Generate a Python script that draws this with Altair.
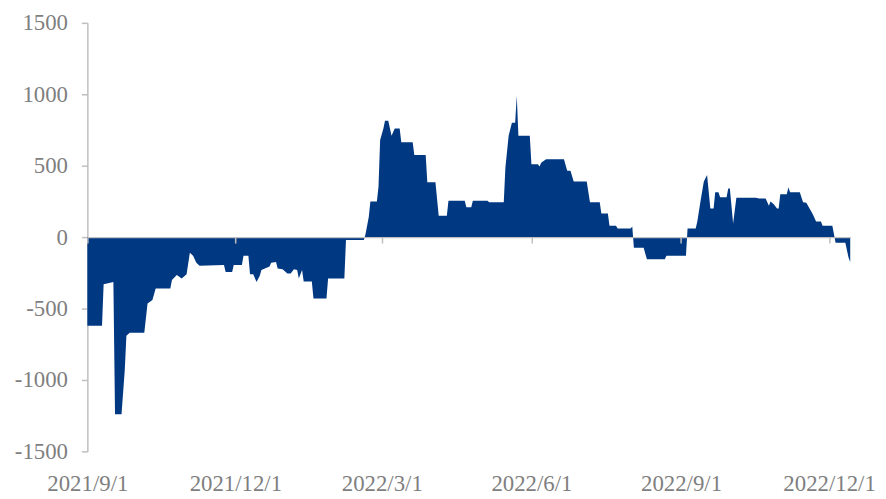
import altair as alt
import pandas as pd

dates = [
    "2021-09-01", "2021-09-10", "2021-09-11", "2021-09-17", "2021-09-18", "2021-09-22",
    "2021-09-24", "2021-09-25", "2021-09-27", "2021-10-06", "2021-10-08", "2021-10-11",
    "2021-10-13", "2021-10-22", "2021-10-23", "2021-10-26", "2021-10-29", "2021-11-01",
    "2021-11-03", "2021-11-05", "2021-11-07", "2021-11-09", "2021-11-24", "2021-11-25",
    "2021-11-29", "2021-11-30", "2021-12-05", "2021-12-06", "2021-12-09", "2021-12-10",
    "2021-12-12", "2021-12-14", "2021-12-16", "2021-12-17", "2021-12-22", "2021-12-23",
    "2021-12-26", "2021-12-27", "2021-12-30", "2022-01-02", "2022-01-04", "2022-01-06",
    "2022-01-08", "2022-01-09", "2022-01-11", "2022-01-12", "2022-01-17", "2022-01-18",
    "2022-01-26", "2022-01-27", "2022-02-06", "2022-02-07", "2022-02-18", "2022-02-19",
    "2022-02-21", "2022-02-22", "2022-02-26", "2022-02-27", "2022-02-28", "2022-03-02",
    "2022-03-03", "2022-03-05", "2022-03-07", "2022-03-09", "2022-03-12", "2022-03-13",
    "2022-03-20", "2022-03-21", "2022-03-28", "2022-03-29", "2022-04-03", "2022-04-05",
    "2022-04-10", "2022-04-11", "2022-04-21", "2022-04-22", "2022-04-25", "2022-04-26",
    "2022-05-05", "2022-05-06", "2022-05-15", "2022-05-16", "2022-05-18", "2022-05-20",
    "2022-05-22", "2022-05-23", "2022-05-24", "2022-05-31", "2022-06-01", "2022-06-05",
    "2022-06-06", "2022-06-07", "2022-06-10", "2022-06-21", "2022-06-23", "2022-06-25",
    "2022-06-27", "2022-07-05", "2022-07-07", "2022-07-13", "2022-07-14", "2022-07-18",
    "2022-07-19", "2022-07-23", "2022-07-24", "2022-08-01", "2022-08-02", "2022-08-03",
    "2022-08-09", "2022-08-11", "2022-08-22", "2022-08-23", "2022-09-04", "2022-09-05",
    "2022-09-10", "2022-09-11", "2022-09-13", "2022-09-15", "2022-09-17", "2022-09-19",
    "2022-09-21", "2022-09-22", "2022-09-24", "2022-09-25", "2022-09-29", "2022-09-30",
    "2022-10-01", "2022-10-03", "2022-10-05", "2022-10-17", "2022-10-19", "2022-10-23",
    "2022-10-25", "2022-10-26", "2022-10-28", "2022-10-30", "2022-10-31", "2022-11-01",
    "2022-11-05", "2022-11-06", "2022-11-07", "2022-11-13", "2022-11-15", "2022-11-17",
    "2022-11-19", "2022-11-21", "2022-11-23", "2022-11-26", "2022-11-27", "2022-12-03",
    "2022-12-05", "2022-12-11", "2022-12-13", "2022-12-14",
]
values = [
    -620, -620, -330, -315, -1240, -1240,
    -930, -690, -670, -670, -465, -440,
    -360, -360, -300, -265, -290, -260,
    -110, -130, -180, -200, -195, -245,
    -245, -195, -195, -130, -130, -260,
    -260, -315, -270, -230, -205, -180,
    -175, -220, -225, -255, -255, -225,
    -230, -290, -230, -310, -310, -430,
    -430, -290, -290, -20, -20, 20,
    140, 250, 250, 355, 680, 760,
    815, 815, 710, 760, 760, 665,
    665, 575, 575, 385, 385, 150,
    150, 255, 255, 210, 210, 255,
    255, 245, 245, 485, 710, 800,
    800, 990, 710, 710, 510, 510,
    495, 520, 545, 545, 465, 465,
    390, 390, 245, 245, 165, 165,
    80, 80, 60, 60, 75, -75,
    -75, -155, -155, -130, -130, 60,
    60, 110, 255, 390, 435, 200,
    200, 315, 315, 280, 280, 340,
    340, 95, 275, 275, 270, 270,
    220, 250, 230, 200, 200, 300,
    300, 350, 315, 315, 245, 240,
    200, 160, 110, 110, 80, 80,
    -40, -40, -145, -175,
]

y_ticks = [-1500, -1000, -500, 0, 500, 1000, 1500]
x_tick_dates = [(2021, 9, 1), (2021, 12, 1), (2022, 3, 1), (2022, 6, 1), (2022, 9, 1), (2022, 12, 1)]

df = pd.DataFrame({"date": pd.to_datetime(dates), "value": values})

FONT = "Liberation Serif"
GRAY_TXT = "#7f7f7f"
GRAY_LINE = "#bfbfbf"
BLUE = "#003882"

PLOT_H = 432

x_vals = [alt.DateTime(year=y, month=m, date=d) for (y, m, d) in x_tick_dates]
x_scale = alt.Scale(domain=[alt.DateTime(year=2021, month=9, date=1),
                            alt.DateTime(year=2022, month=12, date=14)], nice=False)
y_scale = alt.Scale(domain=[-1500, 1500], nice=False)

y_axis = alt.Axis(values=y_ticks, grid=False, title=None,
                  domainColor=GRAY_LINE, tickColor=GRAY_LINE, tickSize=6,
                  domainWidth=1.5, tickWidth=1.5,
                  labelFont=FONT, labelFontSize=23, labelColor=GRAY_TXT,
                  labelPadding=14, labelExpr="'' + datum.value")

area = alt.Chart(df).mark_area(color=BLUE, interpolate="linear").encode(
    x=alt.X("date:T", scale=x_scale,
            axis=alt.Axis(orient="bottom", values=x_vals, format="%Y/%-m/%-d",
                          domain=False, ticks=False, grid=False, title=None,
                          labelFont=FONT, labelFontSize=23, labelColor=GRAY_TXT,
                          labelPadding=21, labelAngle=0, labelOverlap=False,
                          labelFlush=False)),
    y=alt.Y("value:Q", scale=y_scale, axis=y_axis),
    y2=alt.datum(0),
)

zero_axis = alt.Chart(df).mark_area(opacity=0).encode(
    x=alt.X("date:T", scale=x_scale,
            axis=alt.Axis(orient="bottom", values=x_vals, offset=-PLOT_H / 2,
                          labels=False, domain=True, ticks=True, grid=False, title=None,
                          domainColor=GRAY_LINE, tickColor=GRAY_LINE, tickSize=6,
                          domainWidth=1.5, tickWidth=1.5, zindex=1)),
    y=alt.Y("value:Q", scale=y_scale, axis=y_axis),
    y2=alt.datum(0),
)

chart = alt.layer(area, zero_axis).resolve_axis(x="independent").properties(
    width=769,
    height=PLOT_H,
    autosize=alt.AutoSizeParams(type="none"),
    padding={"left": 80, "top": 13, "right": 28, "bottom": 44},
).configure_view(stroke=None)

chart.save("out.html", embed_options={"renderer": "svg", "actions": False})
